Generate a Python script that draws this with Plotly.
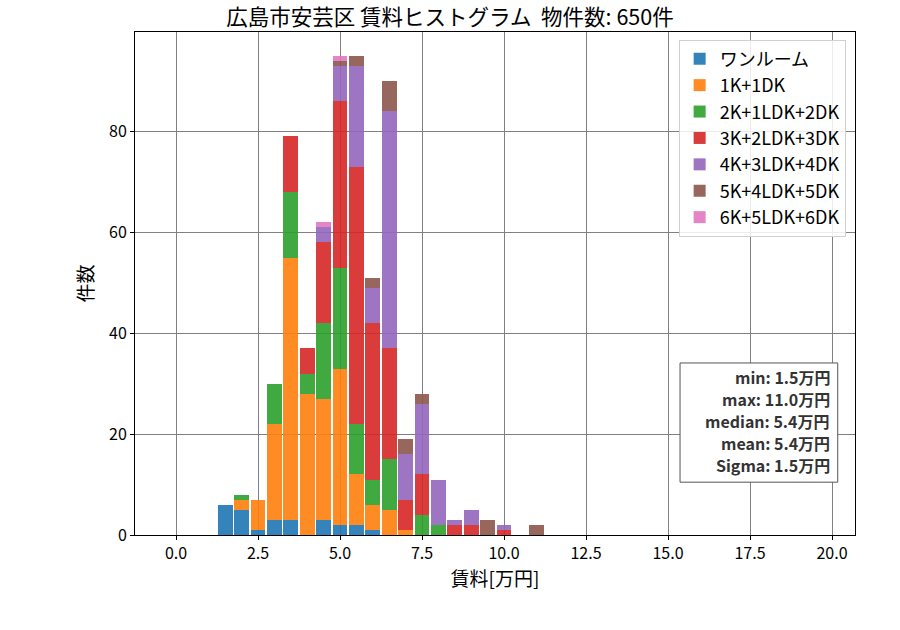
import plotly.graph_objects as go

centers = [1.5, 2.0, 2.5, 3.0, 3.5, 4.0, 4.5, 5.0, 5.5, 6.0, 6.5, 7.0, 7.5, 8.0, 8.5, 9.0, 9.5, 10.0, 10.5, 11.0]
series_names = ["ワンルーム", "1K+1DK", "2K+1LDK+2DK", "3K+2LDK+3DK", "4K+3LDK+4DK", "5K+4LDK+5DK", "6K+5LDK+6DK"]
one_room = [6, 5, 1, 3, 3, 0, 3, 2, 2, 1, 0, 0, 0, 0, 0, 0, 0, 0, 0, 0]
k1_dk1 = [0, 2, 6, 19, 52, 28, 24, 31, 10, 5, 5, 1, 0, 0, 0, 0, 0, 0, 0, 0]
k2_ldk2 = [0, 1, 0, 8, 13, 4, 15, 20, 10, 5, 10, 0, 4, 2, 0, 0, 0, 0, 0, 0]
k3_ldk3 = [0, 0, 0, 0, 11, 5, 16, 33, 51, 31, 22, 6, 8, 0, 2, 2, 0, 1, 0, 0]
k4_ldk4 = [0, 0, 0, 0, 0, 0, 3, 7, 20, 7, 47, 9, 14, 9, 1, 3, 0, 1, 0, 0]
k5_ldk5 = [0, 0, 0, 0, 0, 0, 0, 1, 2, 2, 6, 3, 2, 0, 0, 0, 3, 0, 0, 2]
k6_ldk6 = [0, 0, 0, 0, 0, 0, 1, 1, 0, 0, 0, 0, 0, 0, 0, 0, 0, 0, 0, 0]
series_values = [one_room, k1_dk1, k2_ldk2, k3_ldk3, k4_ldk4, k5_ldk5, k6_ldk6]
colors = ["#1f77b4", "#ff7f0e", "#2ca02c", "#d62728", "#9467bd", "#8c564b", "#e377c2"]
x_ticks = [0.0, 2.5, 5.0, 7.5, 10.0, 12.5, 15.0, 17.5, 20.0]
y_ticks = [0, 20, 40, 60, 80]
stats_lines = ["min: 1.5万円", "max: 11.0万円", "median: 5.4万円", "mean: 5.4万円", "Sigma: 1.5万円"]
title = "広島市安芸区 賃料ヒストグラム  物件数: 650件"

FONT = "Noto Sans CJK JP"

fig = go.Figure()
for name, vals, c in zip(series_names, series_values, colors):
    fig.add_trace(go.Bar(x=centers, y=vals, name=name, width=0.45, legendgroup=name,
                         marker=dict(color=c, line=dict(width=0)), opacity=0.9))

fig.update_layout(
    barmode="stack",
    width=900, height=630,
    margin=dict(l=135, r=45, t=32, b=95),
    paper_bgcolor="white", plot_bgcolor="white",
    font=dict(family=FONT, color="black", size=16),
    title=dict(text=title, x=0.5, xanchor="center", y=0.972, yanchor="middle",
               font=dict(size=21.5, family=FONT)),
    legend=dict(x=0.987, y=0.985, xanchor="right", yanchor="top",
                bgcolor="rgba(255,255,255,0.85)", bordercolor="#d0d0d0", borderwidth=1,
                font=dict(size=18, family=FONT), tracegroupgap=0, traceorder="grouped"),
    showlegend=True,
)
fig.update_xaxes(range=[-1.25, 20.7], tickvals=x_ticks, tickformat=".1f",
                 showgrid=True, gridcolor="#808080", gridwidth=1,
                 showline=True, linecolor="black", linewidth=1, mirror=True,
                 ticks="outside", ticklen=4, tickcolor="black", zeroline=False,
                 tickfont=dict(size=16),
                 title=dict(text="賃料[万円]", font=dict(size=19, family=FONT), standoff=4))
fig.update_yaxes(range=[0, 99.7], tickvals=y_ticks,
                 showgrid=True, gridcolor="#808080", gridwidth=1,
                 showline=True, linecolor="black", linewidth=1, mirror=True,
                 ticks="outside", ticklen=4, tickcolor="black", zeroline=False,
                 tickfont=dict(size=16),
                 title=dict(text="件数", font=dict(size=19, family=FONT), standoff=10))

# stats box
fig.add_shape(type="rect", xref="paper", yref="paper", x0=0.757, x1=0.976, y0=0.105, y1=0.342,
              line=dict(color="#555555", width=1), fillcolor="white", layer="above")
line_top = 0.3135
line_step = 0.0438
for i, s in enumerate(stats_lines):
    fig.add_annotation(xref="paper", yref="paper", x=0.967, y=line_top - i * line_step,
                       xanchor="right", yanchor="middle", text="<b>" + s + "</b>",
                       showarrow=False, font=dict(size=16, family=FONT, color="#333333"),
                       borderpad=0)

fig.write_html("out.html")
